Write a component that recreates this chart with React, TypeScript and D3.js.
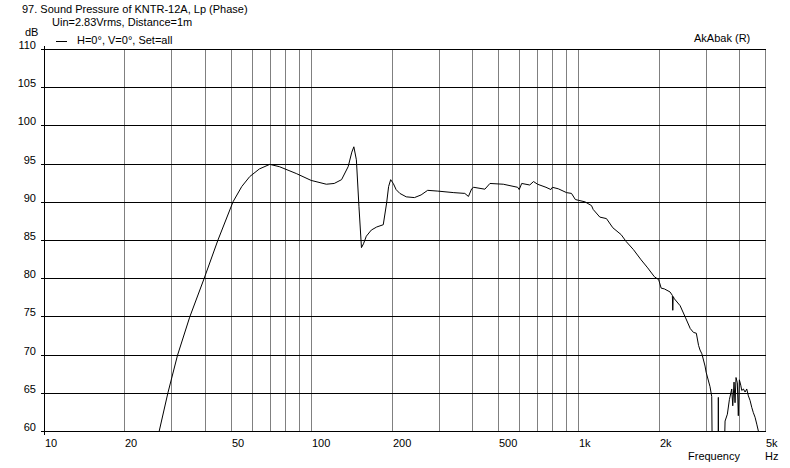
import React from "react";
import * as d3 from "d3";

const freqs: number[] = [
  26, 27.0, 29.1, 31.6, 35.1, 39.7, 44.8, 51.0, 55, 58.9, 64, 70, 76, 88, 100, 114, 122, 130, 137.6, 142,
  144.5, 147.7, 151, 154.3, 157, 160.9, 168, 175.9, 186.2, 191.7, 195, 198.5, 203, 208, 214.8, 227, 243.6,
  258, 273, 298, 342, 376, 388, 399, 406, 447, 467, 524, 593, 601, 614, 658, 680, 704, 757, 790, 800, 842,
  904, 943, 975, 1000, 1059, 1121, 1137, 1204, 1275, 1347, 1447, 1511, 1608, 1719, 1819, 1926, 2000, 2043,
  2100, 2205, 2250, 2258, 2266, 2290, 2406, 2515, 2626, 2700, 2766, 2820, 2856, 2902, 2982, 3010, 3113,
  3159, 3195, 3330, 3344, 3362, 3480, 3544, 3615, 3678, 3754, 3787, 3829, 3862, 3895, 3939, 3973, 4009,
  4057, 4093, 4150, 4211, 4272, 4332, 4396, 4460, 4522, 4589, 4657, 4722, 4760,
];
const spl: number[] = [
  58.5, 60.0, 65.0, 69.9, 74.9, 79.9, 85.0, 90.0, 92.0, 93.3, 94.3, 94.9, 94.6, 93.7, 92.8, 92.3, 92.4, 92.9,
  94.6, 96.5, 97.2, 95.5, 89.4, 84.0, 84.5, 85.5, 86.3, 86.7, 87.0, 89.85, 92.0, 92.9, 92.4, 91.6, 91.1,
  90.65, 90.55, 90.9, 91.5, 91.4, 91.2, 91.1, 90.7, 91.7, 91.9, 91.65, 92.4, 92.3, 91.9, 91.6, 92.4, 92.2,
  92.65, 92.3, 91.9, 91.6, 91.9, 91.7, 91.2, 91.1, 90.3, 90.2, 90.0, 89.5, 89.0, 88.0, 87.8, 86.6, 85.7,
  84.8, 83.75, 82.4, 81.35, 80.2, 79.8, 78.7, 78.6, 78.2, 77.75, 75.8, 77.6, 77.3, 76.4, 74.9, 73.4, 72.9,
  72.8, 71.2, 70.6, 70.1, 68.5, 67.7, 65.8, 64.5, 45, 45, 64.4, 45, 50, 61.3, 62.2, 64.1, 65.5, 63.3, 66.4,
  63.7, 67.0, 66.3, 62.0, 66.7, 66.0, 65.3, 65.5, 65.1, 65.5, 64.6, 64.0, 63.1, 62.4, 61.8, 60.9, 60.0, 58.0,
];

const yTicks: number[] = [60, 65, 70, 75, 80, 85, 90, 95, 100, 105, 110];
const xGrid: number[] = [20, 30, 40, 50, 60, 70, 80, 90, 100, 200, 300, 400, 500, 600, 700, 800, 900, 1000, 2000, 3000, 4000, 5000];
const xLabelVals: number[] = [10, 20, 50, 100, 200, 500, 1000, 2000, 5000];
const xLabelText: string[] = ["10", "20", "50", "100", "200", "500", "1k", "2k", "5k"];

const title = "97. Sound Pressure of KNTR-12A, Lp (Phase)";
const subtitle = "Uin=2.83Vrms, Distance=1m";
const legendText = "H=0°, V=0°, Set=all";

export default function App() {
  const W = 790, H = 468;
  const x = d3.scaleLog().domain([10, 5000]).range([44, 765]);
  const y = d3.scaleLinear().domain([60, 110]).range([431, 49]);
  const px = (f: number) => Math.round(x(f)) + 0.5;
  const py = (v: number) => Math.round(y(v)) + 0.5;
  const data = freqs.map((f, i) => [f, spl[i]] as [number, number]);
  const line = d3.line<[number, number]>().x((d) => x(d[0])).y((d) => y(d[1]));
  const font = "'Liberation Sans', Arial, sans-serif";
  const x0 = px(10), x1 = px(5000);
  return (
    <div style={{ position: "fixed", left: 0, top: 0, width: W, height: H, background: "#fff" }}>
      <svg width={W} height={H} style={{ display: "block" }} fontFamily={font} fontSize={11}>
        <defs>
          <clipPath id="plot">
            <rect x={x0} y={py(110) - 1} width={x1 - x0} height={py(60) - py(110) + 1} />
          </clipPath>
        </defs>
        <rect x={0} y={0} width={W} height={H} fill="#fff" />
        {xGrid.map((f) => (
          <line key={"vx" + f} x1={px(f)} x2={px(f)} y1={py(110)} y2={py(60)} stroke="#808080" shapeRendering="crispEdges" />
        ))}
        {yTicks.map((v) => (
          <line key={"hy" + v} x1={x0 - 4} x2={x1} y1={py(v)} y2={py(v)} stroke="#000" shapeRendering="crispEdges" />
        ))}
        <line x1={x0} x2={x0} y1={py(110) - 4} y2={py(60) + 3} stroke="#000" shapeRendering="crispEdges" />
        {yTicks.map((v) => (
          <text key={"ty" + v} x={36} y={Math.round(y(v))} textAnchor="end" fill="#000">{v}</text>
        ))}
        {xLabelVals.map((f, i) => (
          <text key={"tx" + f} x={Math.round(x(f)) + 1} y={447} fill="#000">{xLabelText[i]}</text>
        ))}
        <g clipPath="url(#plot)">
          <path d={line(data) || ""} fill="none" stroke="#000" strokeWidth={1} />
        </g>
        <text x={22} y={13} fill="#000">{title}</text>
        <text x={52} y={26} fill="#000">{subtitle}</text>
        <line x1={56} x2={67} y1={41.5} y2={41.5} stroke="#000" shapeRendering="crispEdges" />
        <text x={77} y={44} fill="#000">{legendText}</text>
        <text x={25} y={36} fill="#000">dB</text>
        <text x={694} y={42} fill="#000">AkAbak (R)</text>
        <text x={688} y={460} fill="#000">Frequency</text>
        <text x={765} y={460} fill="#000">Hz</text>
      </svg>
    </div>
  );
}
